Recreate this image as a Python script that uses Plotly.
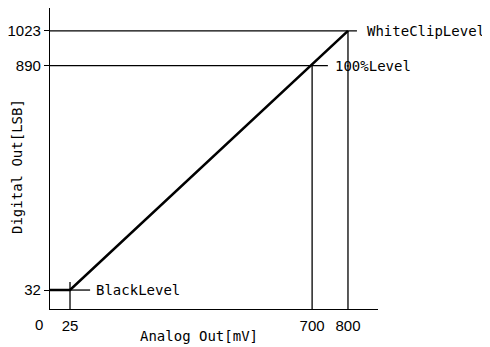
import plotly.graph_objects as go

# data (schematic transfer characteristic)
analog_mv = [25, 800]            # black level input, white clip input
digital_lsb = [32, 1023]         # black level code, white clip code
level100_mv = 700
level100_lsb = 890
x_ticks = [25, 700, 800]
y_ticks = [32, 890, 1023]
labels = ["BlackLevel", "100%Level", "WhiteClipLevel"]

X_RANGE = [-30.8, 883.7]
Y_RANGE = [-40.5, 1110.5]
x0, y0 = X_RANGE[0], Y_RANGE[0]

LBL_FONT = dict(family="DejaVu Sans Mono, monospace", size=14, color="black")
TICK_FONT = dict(family="Liberation Sans Narrow, Liberation Sans, Arial", size=15, color="black")

fig = go.Figure()

def seg(xs, ys, w=1.3):
    fig.add_trace(go.Scatter(x=xs, y=ys, mode="lines", line=dict(color="black", width=w),
                             hoverinfo="skip", showlegend=False, cliponaxis=False))

# thin guide lines
seg([analog_mv[0], analog_mv[0]], [y0, digital_lsb[0] + 31])
seg([analog_mv[0], 81], [digital_lsb[0], digital_lsb[0]])
seg([x0, 825], [digital_lsb[1], digital_lsb[1]])
seg([x0, 744], [level100_lsb, level100_lsb])
seg([level100_mv, level100_mv], [y0, level100_lsb])
seg([analog_mv[1], analog_mv[1]], [y0, digital_lsb[1]])

# main transfer curve
seg([x0, analog_mv[0], analog_mv[1]], [digital_lsb[0], digital_lsb[0], digital_lsb[1]], w=2.6)

ann = [
    dict(x=92, y=digital_lsb[0], text=labels[0]),
    dict(x=758, y=level100_lsb, text=labels[1]),
    dict(x=847, y=digital_lsb[1], text=labels[2]),
]
for a in ann:
    fig.add_annotation(x=a["x"], y=a["y"], xref="x", yref="y", text=a["text"], showarrow=False,
                       xanchor="left", yanchor="middle", font=LBL_FONT)

# axis titles and origin label
fig.add_annotation(x=385, y=0, xref="x", yref="paper", yshift=-27, text="Analog Out[mV]",
                   showarrow=False, xanchor="center", yanchor="middle", font=LBL_FONT)
fig.add_annotation(x=0, y=0, xref="paper", yref="paper", xshift=-33, yshift=142, text="Digital Out[LSB]",
                   textangle=-90, showarrow=False, xanchor="center", yanchor="middle", font=LBL_FONT)
fig.add_annotation(x=0, y=0, xref="paper", yref="paper", xshift=-11, yshift=-15, text="0",
                   showarrow=False, xanchor="center", yanchor="middle", font=TICK_FONT)

fig.update_xaxes(range=X_RANGE, showgrid=False, zeroline=False, showline=True, linecolor="black",
                 linewidth=1.3, tickvals=x_ticks, ticktext=[str(v) for v in x_ticks], ticks="",
                 tickfont=TICK_FONT, automargin=False, ticklabelstandoff=3)
fig.update_yaxes(range=Y_RANGE, showgrid=False, zeroline=False, showline=True, linecolor="black",
                 linewidth=1.3, tickvals=y_ticks, ticktext=[str(v) for v in y_ticks], ticks="outside",
                 ticklen=5, tickwidth=1.3, tickcolor="black", tickfont=TICK_FONT, automargin=False)

# page body has an 8px margin, so the figure is 8px smaller and margins shifted
fig.update_layout(width=482, height=339, margin=dict(l=42, r=112, t=0, b=38),
                  plot_bgcolor="white", paper_bgcolor="white")

fig.write_html("out.html")
